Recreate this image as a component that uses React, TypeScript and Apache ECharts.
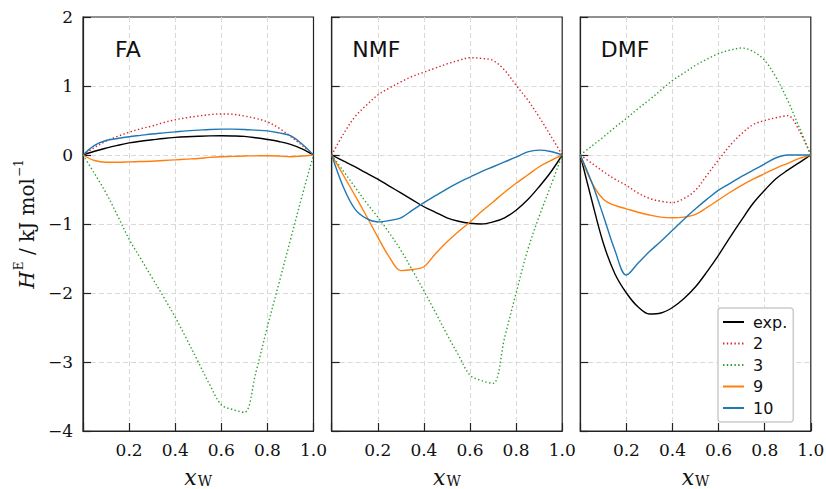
import React, { useEffect, useRef } from "react";
import * as echarts from "echarts";

// shared mole-fraction grid x_W
const X = [0, 0.05, 0.1, 0.15, 0.2, 0.25, 0.3, 0.35, 0.4, 0.45, 0.5, 0.55, 0.6, 0.65, 0.7, 0.75, 0.8, 0.85, 0.9, 0.95, 1.0];

const PANEL_NAMES = ["FA", "NMF", "DMF"];
const SERIES_NAMES = ["exp.", "2", "3", "9", "10"];
const Y_TICKS = [-4, -3, -2, -1, 0, 1, 2];
const X_TICKS = [0.2, 0.4, 0.6, 0.8, 1.0];

// FA
const faExp = [0, 0.055, 0.1, 0.14, 0.175, 0.2, 0.22, 0.24, 0.255, 0.265, 0.272, 0.277, 0.278, 0.276, 0.27, 0.25, 0.225, 0.195, 0.155, 0.09, 0];
const fa2 = [0, 0.11, 0.2, 0.27, 0.33, 0.38, 0.42, 0.47, 0.51, 0.54, 0.565, 0.585, 0.595, 0.59, 0.565, 0.53, 0.48, 0.39, 0.27, 0.14, 0];
const fa3 = [0, -0.27, -0.55, -0.88, -1.22, -1.5, -1.78, -2.06, -2.35, -2.67, -3.0, -3.33, -3.62, -3.69, -3.73, -3.15, -2.49, -1.86, -1.23, -0.6, 0];
const fa9 = [0, -0.08, -0.105, -0.105, -0.1, -0.095, -0.09, -0.08, -0.07, -0.06, -0.05, -0.035, -0.025, -0.02, -0.015, -0.012, -0.01, -0.015, -0.025, -0.015, 0];
const fa10 = [0, 0.14, 0.21, 0.24, 0.265, 0.285, 0.305, 0.32, 0.335, 0.35, 0.36, 0.37, 0.375, 0.375, 0.37, 0.36, 0.35, 0.32, 0.28, 0.16, 0];

// NMF
const nmfExp = [0, -0.085, -0.17, -0.26, -0.35, -0.45, -0.55, -0.65, -0.75, -0.83, -0.91, -0.96, -0.99, -1.0, -0.97, -0.91, -0.8, -0.65, -0.46, -0.25, 0];
const nmf2 = [0, 0.3, 0.55, 0.72, 0.87, 0.97, 1.06, 1.14, 1.2, 1.26, 1.32, 1.37, 1.41, 1.4, 1.37, 1.23, 1.01, 0.8, 0.55, 0.28, 0];
const nmf3 = [0, -0.23, -0.46, -0.69, -0.9, -1.13, -1.38, -1.67, -1.97, -2.28, -2.6, -2.9, -3.19, -3.27, -3.31, -2.65, -2.0, -1.38, -0.89, -0.45, 0];
const nmf9 = [0, -0.29, -0.58, -0.88, -1.19, -1.48, -1.675, -1.66, -1.62, -1.43, -1.26, -1.11, -0.97, -0.82, -0.68, -0.54, -0.41, -0.29, -0.17, -0.08, 0];
const nmf10 = [0, -0.46, -0.78, -0.92, -0.97, -0.95, -0.91, -0.8, -0.69, -0.59, -0.49, -0.4, -0.32, -0.24, -0.17, -0.1, -0.03, 0.045, 0.07, 0.05, 0];

// DMF
const dmfExp = [0, -0.66, -1.28, -1.72, -2.0, -2.2, -2.305, -2.29, -2.21, -2.08, -1.91, -1.69, -1.45, -1.19, -0.94, -0.7, -0.51, -0.34, -0.22, -0.11, 0];
const dmf2 = [0, -0.12, -0.24, -0.35, -0.44, -0.55, -0.63, -0.67, -0.69, -0.63, -0.51, -0.29, -0.07, 0.14, 0.31, 0.44, 0.5, 0.54, 0.57, 0.35, 0];
const dmf3 = [0, 0.13, 0.26, 0.4, 0.53, 0.67, 0.8, 0.94, 1.08, 1.19, 1.3, 1.39, 1.47, 1.52, 1.55, 1.5, 1.37, 1.12, 0.79, 0.4, 0];
const dmf9 = [0, -0.4, -0.64, -0.73, -0.78, -0.83, -0.87, -0.9, -0.91, -0.9, -0.86, -0.76, -0.65, -0.54, -0.44, -0.35, -0.27, -0.19, -0.12, -0.05, 0];
const dmf10 = [0, -0.4, -0.88, -1.38, -1.74, -1.57, -1.4, -1.25, -1.09, -0.93, -0.78, -0.64, -0.51, -0.41, -0.31, -0.22, -0.13, -0.04, 0, 0, 0];

const PANEL_DATA = [
  [faExp, fa2, fa3, fa9, fa10],
  [nmfExp, nmf2, nmf3, nmf9, nmf10],
  [dmfExp, dmf2, dmf3, dmf9, dmf10],
];

const COLORS = ["#000000", "#d62728", "#2ca02c", "#ff7f0e", "#1f77b4"];
const DOTTED = [false, true, true, false, false];

const GRID_LEFTS = [83, 331.7, 580.3];
const GRID_TOP = 17;
const GRID_W = 230.5;
const GRID_H = 414;

const SERIF = "DejaVu Serif";
const SANS = "DejaVu Sans";
const FRAME = "#222222";

const fmtY = (v: number) => (v < 0 ? "\u2212" + Math.abs(v) : String(v));

export default function App() {
  const ref = useRef<HTMLDivElement>(null);
  useEffect(() => {
    if (!ref.current) return;
    const chart = echarts.init(ref.current, null, { renderer: "svg" });

    const grids = GRID_LEFTS.map((l) => ({
      left: l,
      top: GRID_TOP,
      width: GRID_W,
      height: GRID_H,
      show: true,
      borderColor: FRAME,
      borderWidth: 1.2,
      backgroundColor: "transparent",
      containLabel: false,
      outerBoundsMode: "none",
    }));

    const xAxes = GRID_LEFTS.map((_, i) => ({
      gridIndex: i,
      type: "value",
      min: 0,
      max: 1,
      interval: 0.2,
      axisLine: { show: true, onZero: false, lineStyle: { color: FRAME, width: 1.2 } },
      axisTick: { show: true, inside: true, length: 8, lineStyle: { color: FRAME, width: 1.2 } },
      axisLabel: {
        color: "#111",
        fontFamily: SERIF,
        fontSize: 17,
        margin: 10,
        showMinLabel: true,
        showMaxLabel: true,
        formatter: (v: number) => (X_TICKS.some((t) => Math.abs(t - v) < 1e-6) ? v.toFixed(1) : ""),
      },
      splitLine: {
        show: true,
        showMinLine: false,
        showMaxLine: false,
        lineStyle: { color: "#d9d9d9", type: [5, 3], width: 1 },
      },
      name: "{i|x}{sub|W}",
      nameLocation: "middle",
      nameGap: 41,
      nameTextStyle: {
        rich: {
          i: { fontFamily: SERIF, fontStyle: "italic", fontSize: 22, color: "#111", lineHeight: 16, verticalAlign: "bottom" },
          sub: { fontFamily: SERIF, fontSize: 14, color: "#111", lineHeight: 10, verticalAlign: "bottom", padding: [0, 0, 0, 1] },
        },
      },
    }));

    const yAxes = GRID_LEFTS.map((_, i) => ({
      gridIndex: i,
      type: "value",
      min: Y_TICKS[0],
      max: Y_TICKS[Y_TICKS.length - 1],
      interval: 1,
      axisLine: { show: true, onZero: false, lineStyle: { color: FRAME, width: 1.2 } },
      axisTick: { show: true, inside: true, length: 8, lineStyle: { color: FRAME, width: 1.2 } },
      axisLabel: {
        show: i === 0,
        color: "#111",
        fontFamily: SERIF,
        fontSize: 17,
        margin: 10,
        formatter: fmtY,
      },
      splitLine: {
        show: true,
        showMinLine: false,
        showMaxLine: false,
        lineStyle: { color: "#d9d9d9", type: [5, 3], width: 1 },
      },
      name: i === 0 ? "{i|H}{sup|E}{n| / kJ mol}{sup|\u22121}" : "",
      nameLocation: "middle",
      nameGap: 46,
      nameTextStyle: {
        rich: {
          i: { fontFamily: SERIF, fontStyle: "italic", fontSize: 20, color: "#111", lineHeight: 26, verticalAlign: "bottom" },
          n: { fontFamily: SERIF, fontSize: 20, color: "#111", lineHeight: 26, verticalAlign: "bottom" },
          sup: { fontFamily: SERIF, fontSize: 12, color: "#111", lineHeight: 12, verticalAlign: "top", padding: [2, 0, 0, 1] },
        },
      },
    }));

    const series: any[] = [];
    PANEL_DATA.forEach((panel, p) => {
      panel.forEach((ys, s) => {
        series.push({
          type: "line",
          name: SERIES_NAMES[s],
          xAxisIndex: p,
          yAxisIndex: p,
          data: X.map((x, k) => [x, ys[k]]),
          symbol: "none",
          smooth: 0.35,
          color: COLORS[s],
          lineStyle: {
            color: COLORS[s],
            width: 1.4,
            type: DOTTED[s] ? [1.4, 2.4] : "solid",
          },
          z: 3,
        });
      });
    });

    const titles = PANEL_NAMES.map((t, i) => ({
      text: t,
      left: GRID_LEFTS[i] + (i === 0 ? 32 : 20.5),
      top: 38,
      padding: 0,
      textStyle: { fontFamily: SANS, fontSize: 22, fontWeight: "normal", color: "#111" },
    }));

    chart.setOption({
      animation: false,
      backgroundColor: "#ffffff",
      title: titles,
      grid: grids,
      xAxis: xAxes,
      yAxis: yAxes,
      series,
      legend: {
        data: SERIES_NAMES,
        orient: "vertical",
        left: 718,
        top: 308,
        padding: [6, 6, 6, 4],
        itemWidth: 21,
        itemHeight: 14,
        itemGap: 5.5,
        selectedMode: false,
        backgroundColor: "#ffffff",
        borderColor: "#cccccc",
        borderWidth: 1.5,
        borderRadius: 3,
        itemStyle: { opacity: 0, borderWidth: 0 },
        textStyle: { fontFamily: SANS, fontSize: 16, color: "#111", lineHeight: 14, padding: [0, 0, 0, 4] },
      },
    });
    return () => chart.dispose();
  }, []);
  return <div ref={ref} style={{ position: "fixed", left: 0, top: 0, width: 826, height: 489 }} />;
}
